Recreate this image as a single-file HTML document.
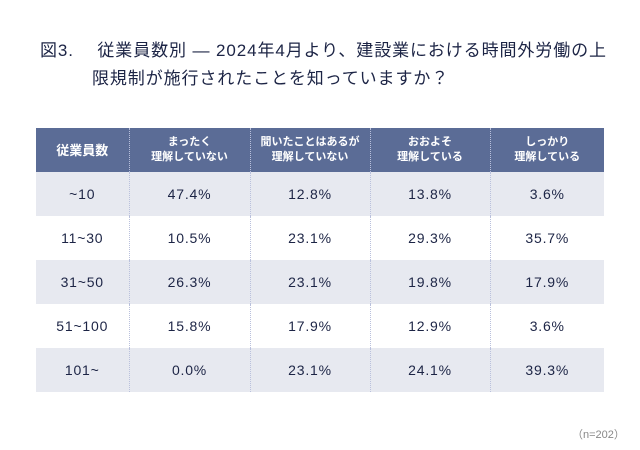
<!DOCTYPE html>
<html><head><meta charset="utf-8"><style>
body{margin:0;width:640px;height:450px;background:#fff;position:relative;font-family:"Liberation Sans","Noto Sans CJK JP",sans-serif;color:#1c2445;overflow:hidden}
.t{position:absolute;font-size:17px;white-space:nowrap;letter-spacing:0.9px}
table{position:absolute;left:36px;top:128px;border-collapse:collapse;table-layout:fixed}
td,th{text-align:center;padding:0;border-left:1px dotted #b9c0dc}
td:first-child,th:first-child{border-left:none}
th{background:#5b6c96;color:#fff;font-size:11px;font-weight:bold;height:44px;line-height:15px}
th:first-child{font-size:13px}
td{height:44px;font-size:14px;letter-spacing:0.8px}
tr.s td{background:#e7e9f0}
.n{position:absolute;left:572px;top:426px;font-size:11px;color:#888}
</style></head><body>
<div class="t" style="left:40px;top:36px">図3.　 従業員数別 — 2024年4月より、建設業における時間外労働の上</div>
<div class="t" style="left:92px;top:64px">限規制が施行されたことを知っていますか？</div>
<table>
<colgroup><col style="width:93px"><col style="width:121px"><col style="width:120px"><col style="width:120px"><col style="width:114px"></colgroup>
<tr><th>従業員数</th><th>まったく<br>理解していない</th><th>聞いたことはあるが<br>理解していない</th><th>おおよそ<br>理解している</th><th>しっかり<br>理解している</th></tr>
<tr class="s"><td>~10</td><td>47.4%</td><td>12.8%</td><td>13.8%</td><td>3.6%</td></tr>
<tr><td>11~30</td><td>10.5%</td><td>23.1%</td><td>29.3%</td><td>35.7%</td></tr>
<tr class="s"><td>31~50</td><td>26.3%</td><td>23.1%</td><td>19.8%</td><td>17.9%</td></tr>
<tr><td>51~100</td><td>15.8%</td><td>17.9%</td><td>12.9%</td><td>3.6%</td></tr>
<tr class="s"><td>101~</td><td>0.0%</td><td>23.1%</td><td>24.1%</td><td>39.3%</td></tr>
</table>
<div class="n">（n=202）</div>
</body></html>
